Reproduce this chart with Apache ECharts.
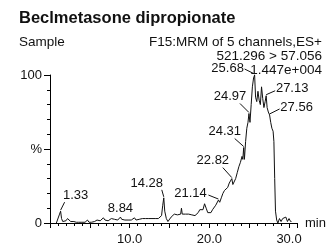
<!DOCTYPE html>
<html lang="en">
<head>
	<meta charset="UTF-8">
	<title>Beclmetasone dipropionate</title>
	<style type="text/css">
	html, body {
		margin: 0;
		padding: 0;
		background: #fff;
	}
	.chart {
		width: 334px;
		height: 248px;
	}
</style>
</head>
<body>
	<div class="chart"></div>

	<script type="text/javascript" src="https://cdn.jsdelivr.net/npm/echarts@6/dist/echarts.min.js"></script>
	<script type="text/javascript">

		// retention time (min) and relative intensity (%)
		var times = [
			0.8, 1.0, 1.2, 1.33, 1.45, 1.6, 1.8, 2.0, 2.2, 2.4, 2.6, 2.8, 3.0, 3.3, 3.6, 4.0, 4.4, 4.7, 4.9,
			5.2, 5.6, 5.9, 6.1, 6.3, 6.5, 6.7, 6.9, 7.1, 7.3, 7.5, 7.7, 7.9, 8.1, 8.3, 8.5, 8.7, 8.84,
			9.0, 9.2, 9.4, 9.6, 9.8, 10.0, 10.2, 10.4, 10.6, 10.8, 11.0, 11.2, 11.4, 11.6, 11.8, 12.0,
			12.2, 12.4, 12.6, 12.8, 13.0, 13.2, 13.4, 13.6, 13.8, 14.0, 14.15, 14.28, 14.4, 14.6, 14.8,
			15.0, 15.2, 15.4, 15.6, 15.8, 16.0, 16.2, 16.4, 16.5, 16.6, 16.8, 17.0, 17.2, 17.4, 17.6,
			17.8, 18.0, 18.2, 18.4, 18.6, 18.8, 19.0, 19.2, 19.4, 19.6, 19.8, 20.0, 20.2, 20.4, 20.6,
			20.8, 21.0, 21.14, 21.3, 21.5, 21.7, 21.9, 22.1, 22.3, 22.5, 22.65, 22.82, 22.95, 23.1,
			23.3, 23.5, 23.7, 23.9, 24.1, 24.2, 24.31, 24.4, 24.55, 24.7, 24.85, 24.97, 25.1, 25.25,
			25.4, 25.55, 25.68, 25.8, 25.95, 26.1, 26.25, 26.4, 26.55, 26.7, 26.85, 27.0, 27.13, 27.25,
			27.4, 27.56, 27.7, 27.85, 28.0, 28.1, 28.2, 28.3, 28.45, 28.6, 28.8, 29.0, 29.2, 29.4,
			29.6, 29.8, 30.0, 30.2, 30.3
		];
		var intensity = [
			0, 1, 6, 8, 3, 1, 2, 1.5, 3, 2.5, 1, 0.5, 1, 0.5, 0.5, 0.5, 0.5, 2, 0.5,
			0.5, 1, 2, 3, 1.5, 2, 3.5, 2, 3, 1.5, 2.5, 3, 2, 2.5, 3.5, 2, 3, 4,
			2.5, 3, 2, 3, 2, 3, 2, 2.5, 3.5, 2, 3, 2.5, 2, 3, 2.5, 3,
			2, 3, 2.5, 3, 3.5, 3, 3.5, 3, 4, 5, 12, 17, 8, 3, 1,
			0, 4, 5, 6, 5, 5.5, 5, 6, 10, 6, 5, 6, 5.5, 6, 5,
			5.5, 6, 5, 6, 7, 9, 8, 9, 13, 10, 7, 8, 7, 9, 10,
			12, 13, 15.5, 14, 17, 20, 22, 21, 24, 27, 26, 30, 26, 25,
			30, 34, 38, 41, 45, 43, 51, 43, 55, 64, 68, 74, 68, 80,
			92, 98, 100, 85, 82, 89, 83, 80, 92, 84, 78, 82, 86, 78,
			75, 73, 68, 64, 62, 55, 30, 8, 2, 0, 3, 1, 3, 2,
			4, 1, 3, 1, 1
		];

		// labelled peaks
		var peakTimes = [1.33, 8.84, 14.28, 21.14, 22.82, 24.31, 24.97, 25.68, 27.13, 27.56];
		var peakHeights = [8, 4, 17, 15.5, 30, 51, 74, 100, 86, 73];

		// header texts
		var chartTitle = 'Beclmetasone dipropionate';
		var headerLeft = 'Sample';
		var headerLines = ['F15:MRM of 5 channels,ES+', '521.296 > 57.056', '1.447e+004'];

		// label centre and leader start, px from each peak top
		var labelOffsets = [[15, -16], [0, -9], [-17, -14], [-28, -7], [-19, -18],
			[-19, -16], [-19, -17], [-27, -7], [26, -7], [27, -8]];
		var leaderStarts = [[4, -9], null, [-2, -8], [-10, -5], [-9, -11],
			[-9, -9], [-9, -10], [-10, -6], [9, -5], [10, -6]];

		var font = 'Liberation Sans, Arial, sans-serif';
		var ink = '#111';
		var chart = echarts.init(document.getElementsByClassName('chart')[0]);

		function pairs (xs, ys) {
			var arr = [];
			xs.forEach(function (x, i) {
				arr.push([x, ys[i]]);
			});
			return arr;
		}

		function headText (text, pos, top, size, weight) {
			var t = {text: text, top: top,
				textStyle: {fontFamily: font, fontSize: size, fontWeight: weight, color: ink}};
			if (pos === 'left') {
				t.left = 14;
			} else {
				t.right = 7;
			}
			return t;
		}

		// peak label with a short leader line to the peak top
		function renderPeak (params, api) {
			var i = params.dataIndex;
			var pt = api.coord([api.value(0), api.value(1)]);
			var o = labelOffsets[i];
			var s = leaderStarts[i];
			var children = [{
				type: 'text',
				x: pt[0] + o[0],
				y: pt[1] + o[1],
				style: {
					text: api.value(0).toFixed(2),
					fill: ink,
					fontFamily: font,
					fontSize: 13,
					align: 'center',
					verticalAlign: 'middle'
				}
			}];
			if (s) {
				children.push({
					type: 'line',
					shape: {x1: pt[0] + s[0], y1: pt[1] + s[1], x2: pt[0], y2: pt[1] - 1},
					style: {stroke: ink, lineWidth: 1}
				});
			}
			return {type: 'group', children: children};
		}

		var option = {
			animation: false,
			title: [
				headText(chartTitle, 'left', 5, 16.5, 'bold'),
				headText(headerLeft, 'left', 30, 13.5, 'normal'),
				headText(headerLines[0], 'right', 30, 13.5, 'normal'),
				headText(headerLines[1], 'right', 44, 13.5, 'normal'),
				headText(headerLines[2], 'right', 58, 13.5, 'normal')
			],
			grid: {left: 50, right: 37, top: 75, bottom: 25},
			xAxis: {
				type: 'value',
				min: 0,
				max: 31,
				interval: 5,
				name: 'min',
				nameLocation: 'end',
				nameGap: 8,
				nameTextStyle: {fontFamily: font, fontSize: 13, color: ink, verticalAlign: 'middle'},
				axisLine: {lineStyle: {color: '#000', width: 1}},
				axisTick: {length: 5, lineStyle: {color: '#000'}},
				minorTick: {show: true, splitNumber: 5, length: 3, lineStyle: {color: '#000'}},
				splitLine: {show: false},
				axisLabel: {
					fontFamily: font, fontSize: 13, color: ink, margin: 10,
					showMaxLabel: false,
					formatter: function (v) {
						return (v > 0 && v % 10 === 0) ? v.toFixed(1) : '';
					}
				}
			},
			yAxis: {
				type: 'value',
				min: 0,
				max: 100,
				interval: 50,
				axisLine: {show: true, lineStyle: {color: '#000', width: 1}},
				axisTick: {show: true, length: 6, lineStyle: {color: '#000'}},
				minorTick: {show: true, splitNumber: 5, length: 3, lineStyle: {color: '#000'}},
				splitLine: {show: false},
				axisLabel: {
					fontFamily: font, fontSize: 13, color: ink, margin: 8,
					formatter: function (v) {
						return v === 50 ? '%' : String(v);
					}
				}
			},
			series: [{
				name: 'trace',
				type: 'line',
				data: pairs(times, intensity),
				symbol: 'none',
				lineStyle: {color: ink, width: 1},
				z: 2
			}, {
				name: 'peaks',
				type: 'custom',
				data: pairs(peakTimes, peakHeights),
				encode: {x: 0, y: 1},
				renderItem: renderPeak,
				clip: false,
				z: 3
			}]
		};

		chart.setOption(option);

	</script>
</body>
</html>
